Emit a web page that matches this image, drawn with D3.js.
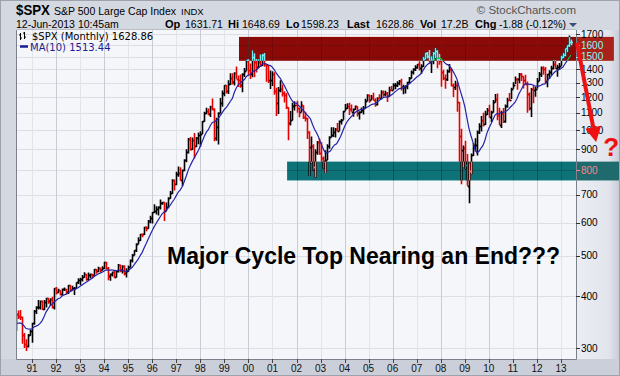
<!DOCTYPE html>
<html>
<head>
<meta charset="utf-8">
<script src="https://cdn.jsdelivr.net/npm/d3@7"></script>
<style>
  body { margin: 0; background: #d4d8e1; }
  svg { display: block; font-family: "Liberation Sans", Arial, sans-serif; }
</style>
</head>
<body>
<svg id="chart" width="620" height="376"></svg>
<script>
// monthly closes, Aug 1989 .. Jun 2013 (the early ones only feed the MA)
const closes = [
  351.45, 349.15, 340.36, 345.99, 353.40,
  329.08, 331.89, 339.94, 330.80, 361.23, 358.02, 356.15, 322.56, 306.05, 304.00, 322.22, 330.22,
  343.93, 367.07, 375.22, 375.34, 389.83, 371.16, 387.81, 395.43, 387.86, 392.46, 375.22, 417.09,
  408.79, 412.70, 403.69, 414.95, 415.35, 408.14, 424.21, 414.03, 417.80, 418.68, 431.35, 435.71,
  438.78, 443.38, 451.67, 440.19, 450.19, 450.53, 448.13, 463.56, 458.93, 467.83, 461.79, 466.45,
  481.61, 467.14, 445.77, 450.91, 456.50, 444.27, 458.26, 475.49, 462.69, 472.35, 453.69, 459.27,
  470.42, 487.39, 500.71, 514.71, 533.40, 544.75, 562.06, 561.88, 584.41, 581.50, 605.37, 615.93,
  636.02, 640.43, 645.50, 654.17, 669.12, 670.63, 639.95, 651.99, 687.31, 705.27, 757.02, 740.74,
  786.16, 790.82, 757.12, 801.34, 848.28, 885.14, 954.29, 899.47, 947.28, 914.62, 955.40, 970.43,
  980.28, 1049.34, 1101.75, 1111.75, 1090.82, 1133.84, 1120.67, 957.28, 1017.01, 1098.67, 1163.63, 1229.23,
  1279.64, 1238.33, 1286.37, 1335.18, 1301.84, 1372.71, 1328.72, 1320.41, 1282.71, 1362.93, 1388.91, 1469.25,
  1394.46, 1366.42, 1498.58, 1452.43, 1420.60, 1454.60, 1430.83, 1517.68, 1436.51, 1429.40, 1314.95, 1320.28,
  1366.01, 1239.94, 1160.33, 1249.46, 1255.82, 1224.38, 1211.23, 1133.58, 1040.94, 1059.78, 1139.45, 1148.08,
  1130.20, 1106.73, 1147.39, 1076.92, 1067.14, 989.82, 911.62, 916.07, 815.28, 885.76, 936.31, 879.82,
  855.70, 841.15, 848.18, 916.92, 963.59, 974.50, 990.31, 1008.01, 995.97, 1050.71, 1058.20, 1111.92,
  1131.13, 1144.94, 1126.21, 1107.30, 1120.68, 1140.84, 1101.72, 1104.24, 1114.58, 1130.20, 1173.82, 1211.92,
  1181.27, 1203.60, 1180.59, 1156.85, 1191.50, 1191.33, 1234.18, 1220.33, 1228.81, 1207.01, 1249.48, 1248.29,
  1280.08, 1280.66, 1294.83, 1310.61, 1270.09, 1270.20, 1276.66, 1303.82, 1335.85, 1377.94, 1400.63, 1418.30,
  1438.24, 1406.82, 1420.86, 1482.37, 1530.62, 1503.35, 1455.27, 1473.99, 1526.75, 1549.38, 1481.14, 1468.36,
  1378.55, 1330.63, 1322.70, 1385.59, 1400.38, 1280.00, 1267.38, 1282.83, 1166.36, 968.75, 896.24, 903.25,
  825.88, 735.09, 797.87, 872.81, 919.14, 919.32, 987.48, 1020.62, 1057.08, 1036.19, 1095.63, 1115.10,
  1073.87, 1104.49, 1169.43, 1186.69, 1089.41, 1030.71, 1101.60, 1049.33, 1141.20, 1183.26, 1180.55, 1257.64,
  1286.12, 1327.22, 1325.83, 1363.61, 1345.20, 1320.64, 1292.28, 1218.89, 1131.42, 1253.30, 1246.96, 1257.60,
  1312.41, 1365.68, 1408.47, 1397.91, 1310.33, 1362.16, 1379.32, 1406.58, 1440.67, 1412.16, 1416.18, 1426.19,
  1498.11, 1514.68, 1569.19, 1597.57, 1630.74, 1628.86
];
const closesFrom = -5;   // month of closes[0], counted from Jan 1990
const barsFrom = 4;      // first drawn bar: May 1990

// monthly highs / lows, May 1990 .. Jun 2013
const highs = [
  362, 369, 370, 357, 326, 315, 324, 332,
  345, 370, 378, 391, 390, 390, 391, 396, 396, 395, 398, 418,
  420, 416, 413, 417, 419, 416, 425, 425, 423, 420, 431, 441,
  442, 449, 456, 452, 455, 453, 452, 464, 464, 470, 468, 471,
  483, 483, 469, 453, 458, 462, 460, 477, 476, 474, 474, 466,
  473, 489, 504, 515, 535, 553, 564, 565, 586, 588, 608, 623,
  636, 664, 656, 656, 681, 673, 673, 670, 690, 714, 762, 761,
  794, 818, 814, 804, 851, 899, 957, 962, 960, 984, 963, 987,
  993, 1052, 1106, 1131, 1126, 1143, 1190, 1128, 1070, 1104, 1193, 1244,
  1281, 1283, 1317, 1369, 1368, 1376, 1420, 1352, 1360, 1368, 1408, 1474,
  1478, 1445, 1553, 1528, 1481, 1479, 1517, 1525, 1531, 1438, 1433, 1389,
  1384, 1377, 1264, 1269, 1316, 1287, 1239, 1227, 1134, 1111, 1163, 1173,
  1176, 1131, 1173, 1147, 1106, 1070, 994, 965, 925, 900, 941, 954,
  935, 864, 895, 925, 966, 1016, 1015, 1011, 1040, 1054, 1063, 1112,
  1155, 1159, 1163, 1151, 1127, 1146, 1141, 1109, 1132, 1142, 1188, 1218,
  1217, 1213, 1229, 1192, 1199, 1219, 1246, 1245, 1243, 1234, 1270, 1276,
  1295, 1297, 1310, 1319, 1327, 1284, 1280, 1306, 1340, 1389, 1407, 1431,
  1441, 1462, 1438, 1499, 1535, 1540, 1556, 1503, 1539, 1576, 1553, 1524,
  1472, 1396, 1359, 1397, 1440, 1405, 1293, 1313, 1304, 1167, 1007, 918,
  943, 876, 833, 878, 930, 956, 997, 1039, 1080, 1101, 1113, 1130,
  1150, 1112, 1181, 1220, 1223, 1131, 1113, 1130, 1151, 1196, 1228, 1263,
  1303, 1345, 1333, 1370, 1371, 1346, 1357, 1307, 1230, 1261, 1278, 1270,
  1334, 1378, 1420, 1422, 1416, 1364, 1392, 1426, 1475, 1471, 1434, 1448,
  1509, 1531, 1570, 1598, 1687, 1649
];
const lows = [
  330, 352, 350, 307, 300, 295, 301, 321,
  309, 341, 362, 371, 371, 370, 370, 375, 383, 379, 373, 371,
  403, 406, 401, 401, 411, 403, 404, 410, 413, 402, 417, 427,
  425, 433, 442, 435, 437, 441, 441, 447, 452, 456, 456, 460,
  464, 464, 436, 435, 445, 441, 443, 455, 456, 453, 448, 443,
  457, 468, 481, 500, 510, 532, 542, 553, 560, 572, 580, 598,
  597, 632, 627, 624, 645, 662, 605, 639, 649, 684, 702, 716,
  737, 773, 756, 733, 797, 837, 879, 893, 896, 855, 910, 924,
  912, 979, 1047, 1091, 1085, 1075, 1114, 940, 942, 923, 1097, 1137,
  1205, 1223, 1221, 1282, 1287, 1279, 1327, 1268, 1263, 1233, 1341, 1387,
  1350, 1325, 1339, 1339, 1374, 1410, 1416, 1425, 1419, 1305, 1296, 1254,
  1275, 1215, 1081, 1092, 1232, 1203, 1165, 1124, 945, 1026, 1054, 1114,
  1101, 1074, 1104, 1063, 1048, 952, 776, 833, 800, 769, 872, 872,
  840, 807, 789, 847, 902, 960, 962, 960, 990, 996, 1031, 1059,
  1112, 1124, 1087, 1107, 1077, 1119, 1078, 1060, 1099, 1090, 1128, 1173,
  1163, 1180, 1177, 1137, 1146, 1188, 1184, 1202, 1205, 1168, 1202, 1246,
  1246, 1253, 1268, 1280, 1245, 1219, 1224, 1253, 1290, 1327, 1360, 1386,
  1403, 1389, 1364, 1416, 1476, 1484, 1454, 1371, 1439, 1489, 1406, 1435,
  1270, 1317, 1256, 1312, 1373, 1272, 1200, 1247, 1107, 840, 741, 815,
  805, 735, 667, 783, 867, 888, 869, 978, 992, 1020, 1029, 1086,
  1071, 1045, 1102, 1165, 1056, 1028, 1011, 1040, 1041, 1131, 1174, 1187,
  1257, 1290, 1249, 1295, 1311, 1258, 1283, 1101, 1114, 1075, 1159, 1202,
  1258, 1312, 1341, 1358, 1291, 1267, 1325, 1355, 1397, 1403, 1343, 1398,
  1427, 1485, 1502, 1537, 1582, 1598
];

const yearTicks = d3.range(1991, 2014);
const priceTicks = [300, 400, 500, 600, 700, 800, 900, 1000, 1100, 1200, 1300, 1400, 1500, 1600, 1700];

// annotation zones: month range (from Jan 1990) and price range
const zones = [
  { m0: 115.3, m1: 302.4, lo: 1466, hi: 1673, fill: "#6aecf2", axis: "#a8221a", ink: "#7efcfc" },
  { m0: 139.3, m1: 305.4, lo: 757, hi: 840, fill: "#e88383", axis: "#1f6a6d", ink: "#f8858d" }
];
const arrow = { m0: 284, v0: 1618, m1: 293.5, v1: 936 };
const question = { m: 301, v: 866 };

const quote = [["Op", "1631.71"], ["Hi", "1648.69"], ["Lo", "1598.23"], ["Last", "1628.86"], ["Vol", "17.2B"], ["Chg", "-1.88 (-0.12%)"]];
const quoteX = [[165, 185], [228, 242], [286, 301], [347, 376], [420, 441], [475, 499]];

const P = { l: 17, t: 30, r: 576, b: 359 };
const svg = d3.select("#chart");

const x = d3.scaleLinear().domain([12, 276]).range([32, 561]);
const y = d3.scaleLog().domain([282.3, 1738]).range([P.b, P.t]);
const fmt2 = v => (Math.round(v * 100 + 1e-6) / 100).toFixed(2);

const bars = highs.map((h, i) => {
  const k = i + barsFrom - closesFrom;
  return { m: barsFrom + i, o: closes[k - 1], h: h, l: lows[i], c: closes[k], up: closes[k] >= closes[k - 1] };
});
const ma = [];
for (let k = 9; k < closes.length; k++) {
  ma.push({ m: k + closesFrom, v: d3.mean(closes.slice(k - 9, k + 1)) });
}

const defs = svg.append("defs");
defs.append("clipPath").attr("id", "plotclip")
  .append("rect").attr("x", P.l).attr("y", P.t).attr("width", P.r - P.l).attr("height", P.b - P.t);
const grad = defs.append("linearGradient").attr("id", "axisbg");
grad.append("stop").attr("offset", "0%").attr("stop-color", "#eceef4");
grad.append("stop").attr("offset", "75%").attr("stop-color", "#e1e4eb");
grad.append("stop").attr("offset", "100%").attr("stop-color", "#c6cad5");

// backgrounds
svg.append("rect").attr("width", 620).attr("height", 376).attr("fill", "#d4d8e1");
svg.append("rect").attr("x", P.r).attr("y", P.t).attr("width", 620 - P.r).attr("height", P.b - P.t).attr("fill", "url(#axisbg)");
svg.append("rect").attr("x", 0).attr("y", P.b).attr("width", 620).attr("height", 376 - P.b).attr("fill", "#cbcfd9");

// the plot group is isolated by its clip, so its own background goes inside it
const plot = svg.append("g").attr("clip-path", "url(#plotclip)");
plot.append("rect").attr("x", P.l).attr("y", P.t).attr("width", P.r - P.l).attr("height", P.b - P.t).attr("fill", "#f5f6fa");

// grid
plot.selectAll("line.hg").data(priceTicks).join("line")
  .attr("x1", P.l).attr("x2", P.r)
  .attr("y1", d => Math.round(y(d)) + 0.5).attr("y2", d => Math.round(y(d)) + 0.5)
  .attr("stroke", "#dcdfe6");
plot.selectAll("line.vg").data(yearTicks).join("line")
  .attr("x1", d => Math.round(x((d - 1990) * 12)) + 0.5).attr("x2", d => Math.round(x((d - 1990) * 12)) + 0.5)
  .attr("y1", P.t).attr("y2", P.b)
  .attr("stroke", d => d % 2 === 0 ? "#c9ccd5" : "#e2e4ea");

// price bars
const px = d => Math.round(x(d.m)) + 0.5;
plot.selectAll("path.bar").data(bars).join("path")
  .attr("d", d => `M${px(d)},${y(d.h)}V${y(d.l)}M${px(d) - 1.5},${Math.round(y(d.o)) + 0.5}H${px(d)}M${px(d)},${Math.round(y(d.c)) + 0.5}H${px(d) + 1.5}`)
  .attr("fill", "none")
  .attr("stroke", d => d.up ? "#000" : "#e60000")
  .attr("stroke-width", 1.6);

// MA(10)
plot.append("path").datum(ma)
  .attr("d", d3.line().x(d => x(d.m)).y(d => y(d.v)))
  .attr("fill", "none").attr("stroke", "#2323a8").attr("stroke-width", 1.2);

// zones, inverted over what is beneath them
plot.selectAll("rect.zone").data(zones).join("rect")
  .attr("x", d => x(d.m0)).attr("width", d => x(d.m1) - x(d.m0))
  .attr("y", d => y(d.hi)).attr("height", d => y(d.lo) - y(d.hi))
  .attr("fill", d => d.fill)
  .style("mix-blend-mode", "difference");
svg.selectAll("rect.zoneaxis").data(zones).join("rect")
  .attr("x", P.r + 0.5).attr("width", d => x(d.m1) - P.r - 0.5)
  .attr("y", d => y(d.hi)).attr("height", d => y(d.lo) - y(d.hi))
  .attr("fill", d => d.axis);

// frame
svg.append("path")
  .attr("d", `M${P.l - 0.5},${P.t}V${P.b + 0.5}H${P.r + 0.5}V${P.t}`)
  .attr("fill", "none").attr("stroke", "#7d818c");
svg.append("line").attr("x1", P.l).attr("x2", P.r).attr("y1", P.t - 0.5).attr("y2", P.t - 0.5).attr("stroke", "#b9bdc8");

// y axis on the right
const zoneOf = v => zones.find(z => v >= z.lo && v <= z.hi);
const yAxis = svg.append("g");
yAxis.selectAll("line").data(priceTicks).join("line")
  .attr("x1", P.r).attr("x2", P.r + 4)
  .attr("y1", d => Math.round(y(d)) + 0.5).attr("y2", d => Math.round(y(d)) + 0.5)
  .attr("stroke", d => zoneOf(d) ? zoneOf(d).ink : "#333");
yAxis.selectAll("text").data(priceTicks).join("text")
  .attr("x", P.r + 5).attr("y", d => y(d) + 3.6)
  .attr("font-size", 10)
  .attr("fill", d => zoneOf(d) ? zoneOf(d).ink : "#000")
  .text(d => d);

// x axis
const xAxis = svg.append("g");
xAxis.selectAll("line").data(yearTicks).join("line")
  .attr("x1", d => Math.round(x((d - 1990) * 12)) + 0.5).attr("x2", d => Math.round(x((d - 1990) * 12)) + 0.5)
  .attr("y1", P.b).attr("y2", P.b + 4).attr("stroke", "#444");
xAxis.selectAll("text").data(yearTicks).join("text")
  .attr("x", d => x((d - 1990) * 12)).attr("y", 372)
  .attr("text-anchor", "middle").attr("font-size", 10).attr("fill", "#111")
  .text(d => d3.format("02d")(d % 100));

// header
svg.append("text").attr("x", 16).attr("y", 15).attr("font-size", 14).attr("font-weight", "bold")
  .attr("textLength", 34).attr("lengthAdjust", "spacingAndGlyphs").text("$SPX");
svg.append("text").attr("x", 54).attr("y", 15).attr("font-size", 10.5)
  .attr("textLength", 122).attr("lengthAdjust", "spacingAndGlyphs").text("S&P 500 Large Cap Index");
svg.append("text").attr("x", 181).attr("y", 15).attr("font-size", 9.5).text("INDX");
svg.append("text").attr("x", 576).attr("y", 14).attr("text-anchor", "end").attr("font-size", 11.5).attr("fill", "#555").text("\u00a9 StockCharts.com");
svg.append("text").attr("x", 16).attr("y", 28).attr("font-size", 10.5).text("12-Jun-2013 10:45am");
quote.forEach((q, i) => {
  svg.append("text").attr("x", quoteX[i][0]).attr("y", 28).attr("font-size", 11).attr("font-weight", "bold").text(q[0]);
  svg.append("text").attr("x", quoteX[i][1]).attr("y", 28).attr("font-size", 10.5).text(q[1]);
});
svg.append("path").attr("d", "M569,23H577L573,27Z").attr("fill", "#3b4b7b");

// legend
const lg = svg.append("g").attr("font-family", "'DejaVu Sans', Verdana, sans-serif").attr("font-size", 10);
lg.append("path").attr("d", "M20.5,33V40M19,35H20.5M20.5,38H22M24.5,32V39M23,33H24.5M24.5,37H26")
  .attr("stroke", "#000").attr("fill", "none");
lg.append("text").attr("x", 32).attr("y", 40).text(`$SPX (Monthly) ${fmt2(closes[closes.length - 1])}`);
lg.append("line").attr("x1", 20).attr("x2", 28).attr("y1", 46.5).attr("y2", 46.5).attr("stroke", "#1c1c90").attr("stroke-width", 2.5);
lg.append("text").attr("x", 30).attr("y", 50.5).attr("fill", "#1c1c90").text(`MA(10) ${fmt2(ma[ma.length - 1].v)}`);

// annotations
const ax0 = x(arrow.m0), ay0 = y(arrow.v0), ax1 = x(arrow.m1), ay1 = y(arrow.v1);
const ang = Math.atan2(ay1 - ay0, ax1 - ax0);
const hl = 15, hw = 8;
const bx = ax1 - hl * Math.cos(ang), by = ay1 - hl * Math.sin(ang);
svg.append("line").attr("x1", ax0).attr("y1", ay0).attr("x2", bx).attr("y2", by)
  .attr("stroke", "#ee1111").attr("stroke-width", 4);
svg.append("path")
  .attr("d", `M${ax1},${ay1}L${bx + hw * Math.sin(ang)},${by - hw * Math.cos(ang)}L${bx - hw * Math.sin(ang)},${by + hw * Math.cos(ang)}Z`)
  .attr("fill", "#ee1111");
svg.append("text").attr("x", x(question.m)).attr("y", y(question.v))
  .attr("text-anchor", "middle").attr("font-size", 26).attr("font-weight", "bold").attr("fill", "#ee1111").text("?");

svg.append("text").attr("x", 167).attr("y", 264).attr("font-size", 23).attr("font-weight", "bold").attr("fill", "#000")
  .text("Major Cycle Top Nearing an End???");

// outer border
svg.append("rect").attr("x", 0.5).attr("y", 0.5).attr("width", 619).attr("height", 375).attr("fill", "none").attr("stroke", "#9ea2ad");
</script>
</body>
</html>
